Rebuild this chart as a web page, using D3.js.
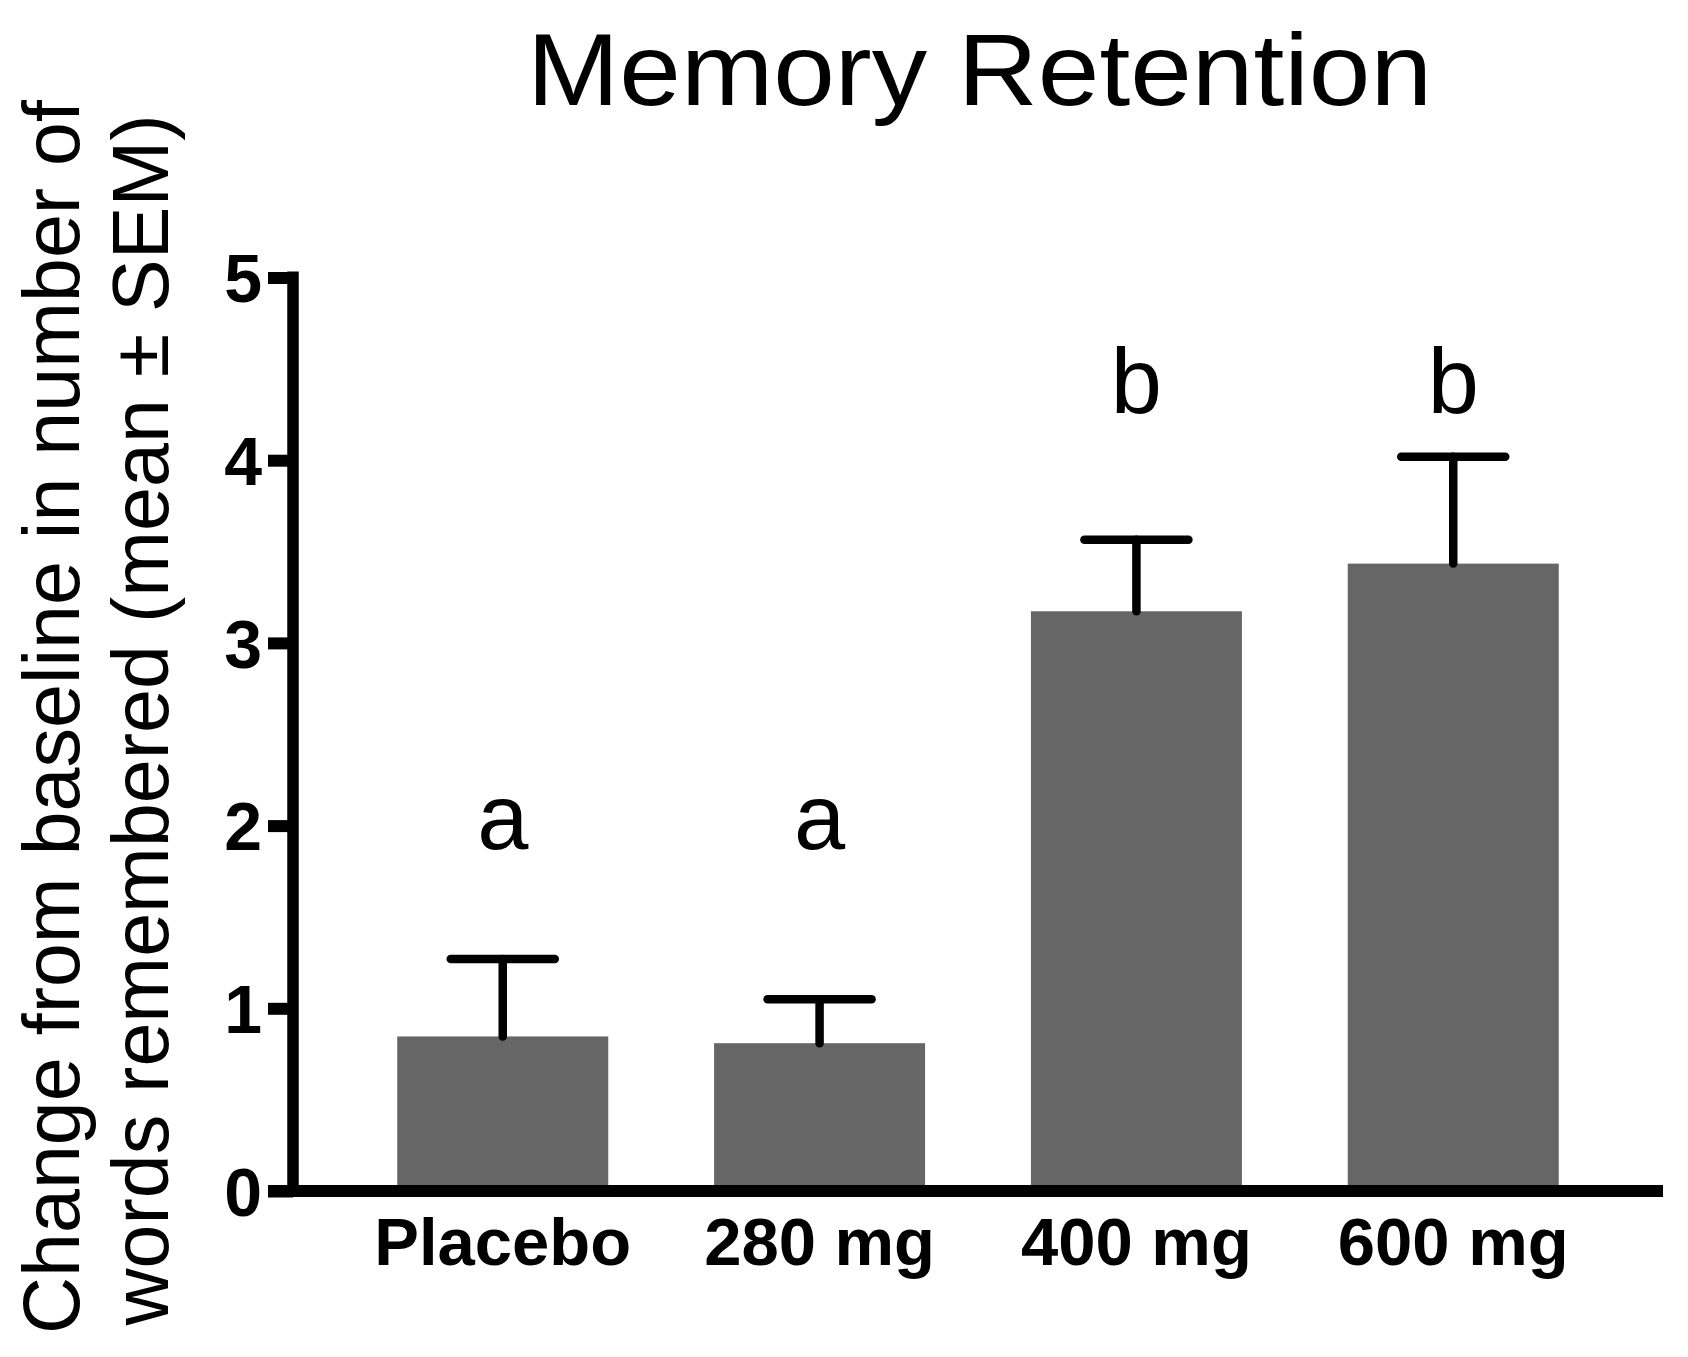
<!DOCTYPE html>
<html>
<head>
<meta charset="utf-8">
<script src="https://cdn.jsdelivr.net/npm/d3@7"></script>
<style>
  html, body { margin: 0; padding: 0; background: #fff; }
  svg { display: block; }
  text { font-family: "Liberation Sans", Arial, Helvetica, sans-serif; }
</style>
</head>
<body>
<svg id="chart" width="1688" height="1357"></svg>
<script>
// ---- data ----
const categories = ["Placebo", "280 mg", "400 mg", "600 mg"];
const means = [0.846, 0.809, 3.173, 3.434];
const sems = [0.424, 0.241, 0.391, 0.585];
const groupLetters = ["a", "a", "b", "b"];
const letterLevels = [1.87, 1.87, 4.26, 4.26];
const yTicks = [0, 1, 2, 3, 4, 5];
const titleText = "Memory Retention";
const yLabelLines = ["Change from baseline in number of", "words remembered (mean \u00b1 SEM)"];

// ---- layout ----
const svg = d3.select("#chart");
const axisX = 293, axisRight = 1663;
const y = d3.scaleLinear().domain([0, 5]).range([1191, 277.5]);
const x = d3.scaleBand().domain(categories).range([axisX, axisRight])
  .paddingInner(0.334).paddingOuter(0.329);

// bars
svg.append("g").selectAll("rect").data(categories).join("rect")
  .attr("x", d => x(d))
  .attr("width", x.bandwidth())
  .attr("y", (d, i) => y(means[i]))
  .attr("height", (d, i) => y(0) - y(means[i]))
  .attr("fill", "#666666");

// error bars
const eb = svg.append("g").attr("stroke", "#000").attr("stroke-width", 8.5)
  .attr("stroke-linecap", "round");
categories.forEach((c, i) => {
  const cx = x(c) + x.bandwidth() / 2;
  eb.append("line").attr("x1", cx).attr("x2", cx)
    .attr("y1", y(means[i])).attr("y2", y(means[i] + sems[i]));
  eb.append("line").attr("x1", cx - 52).attr("x2", cx + 52)
    .attr("y1", y(means[i] + sems[i])).attr("y2", y(means[i] + sems[i]));
});

// group letters
svg.append("g").selectAll("text").data(categories).join("text")
  .attr("x", d => x(d) + x.bandwidth() / 2)
  .attr("y", (d, i) => y(letterLevels[i]))
  .attr("text-anchor", "middle")
  .attr("font-size", 92)
  .attr("fill", "#000")
  .text((d, i) => groupLetters[i]);

// y axis
const yAxis = svg.append("g").attr("transform", `translate(${axisX},0)`)
  .call(d3.axisLeft(y).tickValues(yTicks).tickFormat(d3.format("d"))
    .tickSizeInner(25).tickSizeOuter(0).tickPadding(6));
yAxis.select(".domain").remove();
yAxis.selectAll(".tick line").attr("stroke", "#000").attr("stroke-width", 12);
yAxis.selectAll(".tick text")
  .attr("font-family", "'Liberation Sans', Arial, sans-serif")
  .attr("font-size", 68).attr("font-weight", "bold").attr("fill", "#000")
  .attr("dy", "0.355em");
svg.append("line").attr("x1", axisX).attr("x2", axisX)
  .attr("y1", y(5) - 6).attr("y2", y(0) + 6)
  .attr("stroke", "#000").attr("stroke-width", 11.5);

// x axis
const xAxis = svg.append("g").attr("transform", `translate(0,${y(0)})`)
  .call(d3.axisBottom(x).tickSize(0).tickPadding(26));
xAxis.select(".domain").remove();
xAxis.selectAll(".tick text")
  .attr("font-family", "'Liberation Sans', Arial, sans-serif")
  .attr("font-size", 67).attr("font-weight", "bold").attr("fill", "#000");
svg.append("line").attr("x1", 268).attr("x2", axisRight)
  .attr("y1", y(0)).attr("y2", y(0))
  .attr("stroke", "#000").attr("stroke-width", 12);

// title
svg.append("text")
  .attr("x", 979.5).attr("y", 105)
  .attr("text-anchor", "middle")
  .attr("font-size", 102)
  .attr("textLength", 905).attr("lengthAdjust", "spacingAndGlyphs")
  .attr("fill", "#000")
  .text(titleText);

// y label
const yLabelCenters = [717, 720];
const yLabelBaselines = [78.5, 168];
yLabelLines.forEach((t, i) => {
  svg.append("text")
    .attr("transform", `translate(0,${yLabelCenters[i]}) rotate(-90)`)
    .attr("x", 0).attr("y", yLabelBaselines[i])
    .attr("text-anchor", "middle")
    .attr("font-size", 79)
    .attr("fill", "#000")
    .text(t);
});
</script>
</body>
</html>
